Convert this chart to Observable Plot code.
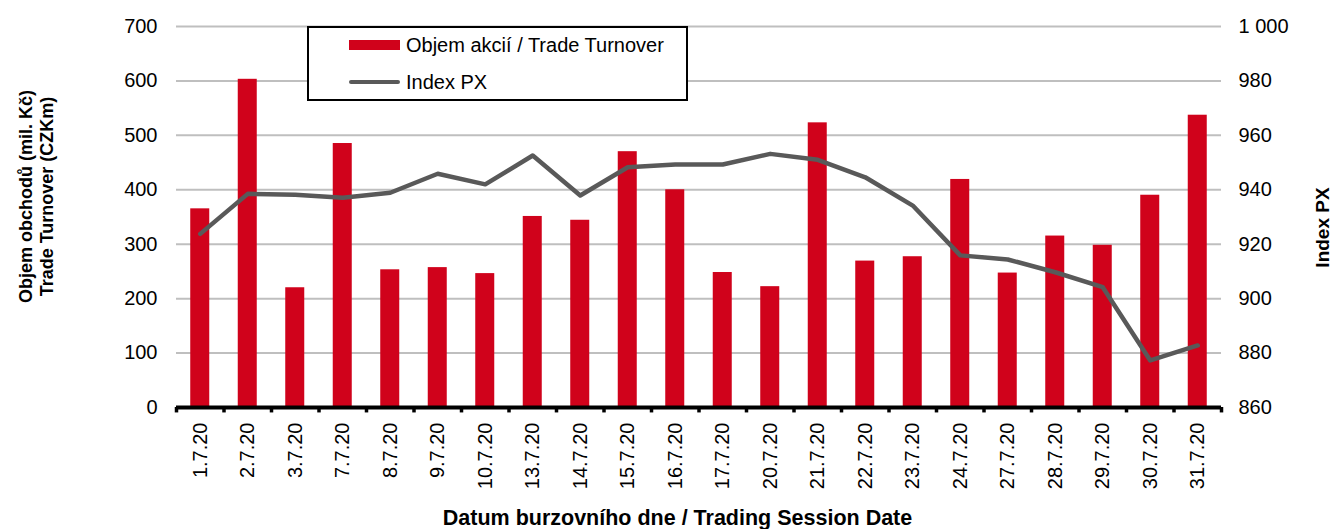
<!DOCTYPE html>
<html>
<head>
<meta charset="utf-8">
<script src="https://cdn.jsdelivr.net/npm/d3@7"></script>
<script src="https://cdn.jsdelivr.net/npm/@observablehq/plot@0.6"></script>
<style>
  html, body { margin: 0; padding: 0; background: #fff; }
  body { width: 1334px; height: 529px; overflow: hidden; font-family: "Liberation Sans", Arial, sans-serif; }
  #wrap { position: relative; width: 1334px; height: 529px; }
  #legend { position: absolute; left: 307px; top: 26px; width: 377px; height: 71px; border: 2px solid #000; background: #fff; font-size: 20px; color: #000; }
  .item { position: absolute; left: 40px; display: flex; align-items: center; height: 24px; }
  .sw-bar { width: 51px; height: 10px; background: #d0021b; margin-right: 6px; }
  .sw-line { width: 51px; height: 4px; border-radius: 2px; background: #595959; margin-right: 6px; }
</style>
</head>
<body>
<div id="wrap">
  <div id="chart"></div>
  <div id="legend">
    <div class="item" style="top:5px"><div class="sw-bar"></div><span>Objem akcií / Trade Turnover</span></div>
    <div class="item" style="top:42px"><div class="sw-line"></div><span>Index PX</span></div>
  </div>
</div>
<script>
const dates = ["1.7.20","2.7.20","3.7.20","7.7.20","8.7.20","9.7.20","10.7.20","13.7.20","14.7.20","15.7.20","16.7.20","17.7.20","20.7.20","21.7.20","22.7.20","23.7.20","24.7.20","27.7.20","28.7.20","29.7.20","30.7.20","31.7.20"];
const turnover = [365,603,220,485,253,257,246,351,344,470,400,248,222,523,269,277,419,247,315,298,390,537];
const indexPX = [923.8,938.5,938.2,937.1,938.9,945.9,942.0,952.6,937.9,948.3,949.3,949.3,953.2,951.0,944.6,934.2,915.9,914.4,909.7,904.2,877.3,882.8];
const leftTicks = [0,100,200,300,400,500,600,700];
const rightMin = 860, rightMax = 1000;
const leftTitle = "Objem obchodů (mil. Kč)\nTrade Turnover (CZKm)";
const rightTitle = "Index PX";
const xTitle = "Datum burzovního dne / Trading Session Date";

const leftMax = 700;
const k = leftMax / (rightMax - rightMin);
const toLeft = v => (v - rightMin) * k;
const fromLeft = v => rightMin + v / k;
const fmtSpace = v => d3.format(",")(Math.round(v)).replace(/,/g, " ");

const rows = dates.map((d, i) => ({date: d, turnover: turnover[i], px: indexPX[i]}));

const W = 1334, H = 529;
const mL = 176, mR = 113, mT = 26, mB = 122;
const step = (W - mL - mR) / dates.length;

const chart = Plot.plot({
  width: W, height: H,
  marginLeft: mL, marginRight: mR, marginTop: mT, marginBottom: mB,
  style: {fontFamily: "'Liberation Sans', Arial, sans-serif", fontSize: "20px", color: "#000", background: "#fff"},
  x: {type: "band", domain: dates, paddingInner: 0.6, paddingOuter: 0.3, round: false},
  y: {domain: [0, leftMax]},
  marks: [
    Plot.gridY(leftTicks, {stroke: "#bfbfbf", strokeWidth: 2, strokeOpacity: 1}),
    Plot.barY(rows, {x: "date", y: "turnover", fill: "#d0021b"}),
    Plot.line(rows, {x: "date", y: d => toLeft(d.px), stroke: "#595959", strokeWidth: 4.5, strokeLinejoin: "round"}),
    Plot.ruleY([0], {stroke: "#000", strokeWidth: 4}),
    Plot.ruleX(dates, {x: d => d, dx: -step / 2, y1: 0, y2: -10, stroke: "#000", strokeWidth: 3.5}),
    Plot.ruleX([dates[dates.length - 1]], {x: d => d, dx: step / 2, y1: 0, y2: -10, stroke: "#000", strokeWidth: 3.5}),
    Plot.axisY(leftTicks, {anchor: "left", tickSize: 0, tickPadding: 19, fontSize: 20, label: null}),
    Plot.axisY(leftTicks, {anchor: "right", tickSize: 0, tickPadding: 17, fontSize: 20,
      tickFormat: d => fmtSpace(fromLeft(d)), label: null}),
    Plot.axisX({tickSize: 0, tickPadding: 15, tickRotate: -90, fontSize: 20, label: null}),
    Plot.text([leftTitle], {text: d => d, frameAnchor: "left", rotate: -90, dx: -140.5, dy: -20.5,
      textAnchor: "middle", lineAnchor: "middle", lineHeight: 1.17, fontSize: 18, fontWeight: "bold", fill: "#000"}),
    Plot.text([rightTitle], {text: d => d, frameAnchor: "right", rotate: -90, dx: 101, dy: 10.5,
      textAnchor: "middle", lineAnchor: "middle", fontSize: 19, fontWeight: "bold", fill: "#000"}),
    Plot.text([xTitle], {text: d => d, frameAnchor: "bottom", dx: -21.5, dy: 111,
      textAnchor: "middle", lineAnchor: "middle", fontSize: 21.5, fontWeight: "bold", fill: "#000"})
  ]
});

document.getElementById("chart").appendChild(chart);
</script>
</body>
</html>
